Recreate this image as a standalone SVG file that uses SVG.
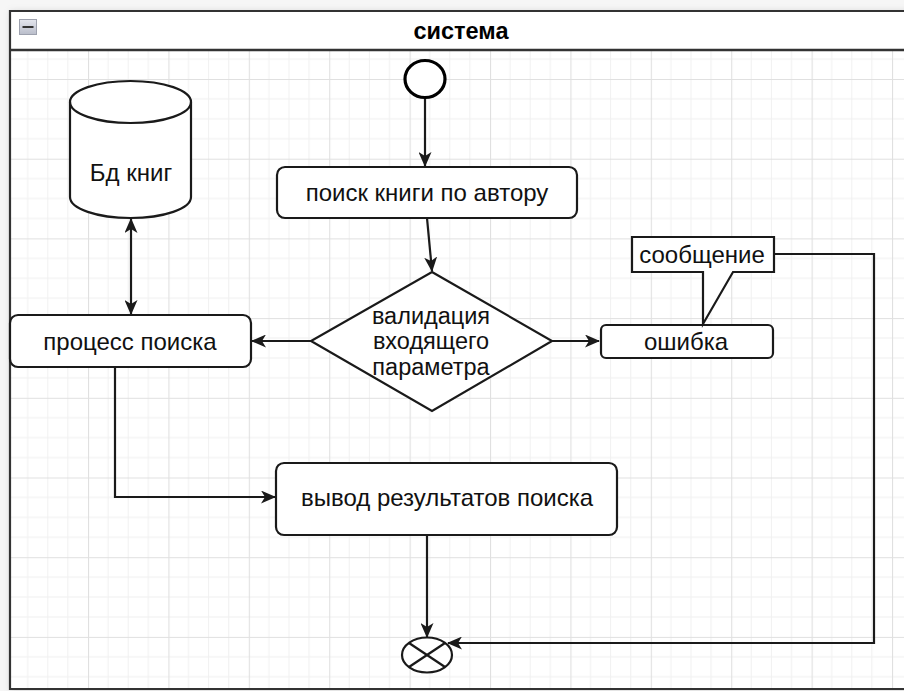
<svg xmlns="http://www.w3.org/2000/svg" width="904" height="691" viewBox="0 0 904 691">
  <style>
    .lbl { font-family: "Liberation Sans", Arial, sans-serif; font-size: 24px; fill: #111; text-anchor: middle; dominant-baseline: central; }
    .dlbl { font-size: 23.5px; }
    .title { font-family: "Liberation Sans", Arial, sans-serif; font-size: 23.5px; font-weight: bold; fill: #000; text-anchor: middle; dominant-baseline: central; }
    .shape { fill: #fff; stroke: #1a1a1a; stroke-width: 2.2; }
    .edge { fill: none; stroke: #1a1a1a; stroke-width: 2.2; }
  </style>
  <defs>
    <pattern id="grid" patternUnits="userSpaceOnUse" x="7.6" y="-0.7" width="80.4" height="79.7">
      <g stroke="#f0f0f0" stroke-width="1">
        <line x1="20.1" y1="0" x2="20.1" y2="79.7"/>
        <line x1="40.2" y1="0" x2="40.2" y2="79.7"/>
        <line x1="60.3" y1="0" x2="60.3" y2="79.7"/>
        <line x1="0" y1="19.9" x2="80.4" y2="19.9"/>
        <line x1="0" y1="39.85" x2="80.4" y2="39.85"/>
        <line x1="0" y1="59.8" x2="80.4" y2="59.8"/>
      </g>
      <g stroke="#e0e0e0" stroke-width="1.2">
        <line x1="0.5" y1="0" x2="0.5" y2="79.7"/>
        <line x1="0" y1="0.5" x2="80.4" y2="0.5"/>
      </g>
    </pattern>
    <linearGradient id="btn" x1="0" y1="0" x2="0" y2="1">
      <stop offset="0" stop-color="#e4e6ee"/>
      <stop offset="1" stop-color="#b9bdca"/>
    </linearGradient>
    <filter id="shadow" x="-5%" y="-5%" width="110%" height="110%">
      <feGaussianBlur stdDeviation="3"/>
    </filter>
    <marker id="arr" viewBox="0 0 15 13" refX="14" refY="6.5" markerWidth="15" markerHeight="13" markerUnits="userSpaceOnUse" orient="auto-start-reverse">
      <path d="M0,0 L15,6.5 L0,13 L4,6.5 Z" fill="#1a1a1a"/>
    </marker>
  </defs>

  <!-- page background -->
  <rect x="0" y="0" width="904" height="691" fill="#f6f6f6"/>
  <rect x="10" y="11" width="904" height="680" fill="#9a9a9a" opacity="0.35" filter="url(#shadow)"/>

  <!-- swimlane container -->
  <g id="system">
    <rect x="10" y="11" width="900" height="678" fill="#fff"/>
    <rect x="10" y="50" width="900" height="639" fill="url(#grid)"/>
    <path d="M910,11 H10 V689 H910" fill="none" stroke="#333" stroke-width="2.2"/>
    <line x1="10" y1="50" x2="910" y2="50" stroke="#333" stroke-width="2.4"/>
    <rect x="19.5" y="19.5" width="17" height="15" fill="url(#btn)" stroke="#9da1ae" stroke-width="1"/>
    <line x1="22.5" y1="27" x2="33.5" y2="27" stroke="#333" stroke-width="2"/>
    <text class="title" x="461" y="31">система</text>
  </g>

  <!-- connectors -->
  <g id="connectors">
    <line class="edge" x1="425" y1="98" x2="425" y2="166" marker-end="url(#arr)"/>
    <line class="edge" x1="427" y1="218" x2="432" y2="271" marker-end="url(#arr)"/>
    <line class="edge" x1="311" y1="341" x2="252" y2="341" marker-end="url(#arr)"/>
    <line class="edge" x1="552" y1="341" x2="599" y2="341" marker-end="url(#arr)"/>
    <line class="edge" x1="131" y1="219" x2="131" y2="314" marker-start="url(#arr)" marker-end="url(#arr)"/>
    <polyline class="edge" points="115,368 115,497 275,497" marker-end="url(#arr)"/>
    <line class="edge" x1="427" y1="536" x2="427" y2="637" marker-end="url(#arr)"/>
    <polyline class="edge" points="774,254 874,254 874,643 448,643" marker-end="url(#arr)"/>
  </g>

  <!-- initial state -->
  <g id="start">
    <ellipse cx="425" cy="79" rx="20" ry="18.5" fill="#fff" stroke="#000" stroke-width="3.2"/>
  </g>

  <!-- book database -->
  <g id="db">
    <path class="shape" d="M70,102 A60.5,21 0 0 1 191,102 V197 A60.5,21 0 0 1 70,197 Z"/>
    <path class="edge" d="M70,102 A60.5,21 0 0 0 191,102"/>
    <text class="lbl" x="131" y="172">Бд книг</text>
  </g>

  <g id="search-author">
    <rect class="shape" x="277" y="167" width="300" height="51" rx="8"/>
    <text class="lbl" x="427" y="192">поиск книги по автору</text>
  </g>

  <g id="validate">
    <polygon class="shape" points="432,272 552,341 432,411 311,341"/>
    <text class="lbl dlbl" x="431" y="315.5">валидация</text>
    <text class="lbl dlbl" x="431" y="341">входящего</text>
    <text class="lbl dlbl" x="431" y="366.5">параметра</text>
  </g>

  <g id="search-process">
    <rect class="shape" x="10" y="315" width="241" height="52" rx="8"/>
    <text class="lbl" x="130" y="341">процесс поиска</text>
  </g>

  <g id="error">
    <rect class="shape" x="601" y="325" width="172" height="33" rx="5"/>
    <text class="lbl" x="686" y="341">ошибка</text>
  </g>

  <g id="message">
    <path class="shape" d="M632,237 H774 V272 H733 L703,324 V272 H632 Z"/>
    <text class="lbl" x="702" y="254">сообщение</text>
  </g>

  <g id="output">
    <rect class="shape" x="276" y="463" width="341" height="72" rx="8"/>
    <text class="lbl" x="447" y="497">вывод результатов поиска</text>
  </g>

  <!-- flow final -->
  <g id="end">
    <ellipse cx="427" cy="655" rx="25" ry="17.5" fill="#fff" stroke="#1a1a1a" stroke-width="2.2"/>
    <line x1="409" y1="643" x2="445" y2="667" stroke="#1a1a1a" stroke-width="2.2"/>
    <line x1="409" y1="667" x2="445" y2="643" stroke="#1a1a1a" stroke-width="2.2"/>
  </g>
</svg>
